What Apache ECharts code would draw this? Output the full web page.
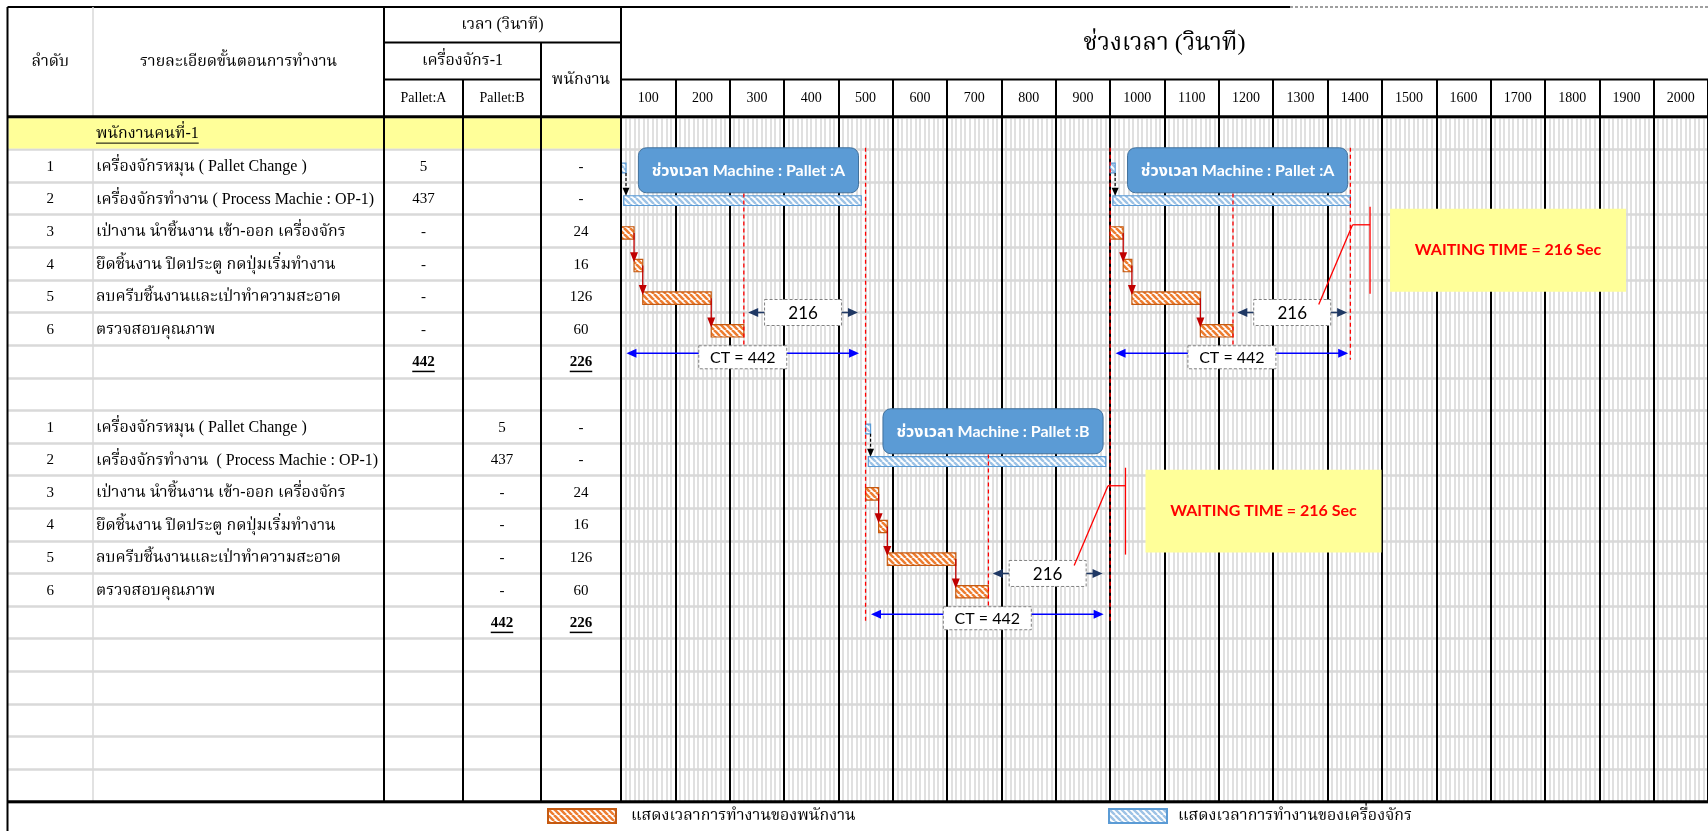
<!DOCTYPE html>
<html><head><meta charset="utf-8">
<script src="https://cdn.jsdelivr.net/npm/echarts@6/dist/echarts.min.js"></script>
<style>html,body{margin:0;padding:0;background:#fff}#c{width:1708px;height:831px}</style>
</head><body><div id="c"></div>
<script>
// ================= DATA =================
const groupTitle = 'พนักงานคนที่-1';
const stepNo = ['1','2','3','4','5','6'];
const stepDescA = ['เครื่องจักรหมุน ( Pallet Change )','เครื่องจักรทำงาน ( Process Machie : OP-1)','เป่างาน นำชิ้นงาน เข้า-ออก เครื่องจักร','ยึดชิ้นงาน ปิดประตู กดปุ่มเริ่มทำงาน','ลบครีบชิ้นงานและเป่าทำความสะอาด','ตรวจสอบคุณภาพ'];
const stepDescB = ['เครื่องจักรหมุน ( Pallet Change )','เครื่องจักรทำงาน  ( Process Machie : OP-1)','เป่างาน นำชิ้นงาน เข้า-ออก เครื่องจักร','ยึดชิ้นงาน ปิดประตู กดปุ่มเริ่มทำงาน','ลบครีบชิ้นงานและเป่าทำความสะอาด','ตรวจสอบคุณภาพ'];
const machineSec  = [5, 437, null, null, null, null];
const operatorSec = [null, null, 24, 16, 126, 60];
const timeTicks = ['100','200','300','400','500','600','700','800','900','1000','1100','1200','1300','1400','1500','1600','1700','1800','1900','2000'];
const headerTexts = ['ลำดับ','รายละเอียดขั้นตอนการทำงาน','เวลา (วินาที)','เครื่องจักร-1','พนักงาน','Pallet:A','Pallet:B'];
const timeTitle = 'ช่วงเวลา (วินาที)';
// cycles as drawn on the sheet (start second)
const cycleStart  = [0, 450, 900];
const cyclePallet = ['A', 'B', 'A'];
const cycleBlock  = [0, 1, 0];
const cycleNote   = [false, true, true];
const machineLabelPrefix = 'ช่วงเวลา Machine : Pallet :';
const legendNames = ['แสดงเวลาการทำงานของพนักงาน','แสดงเวลาการทำงานของเครื่องจักร'];

const machineTotal  = machineSec.reduce((a,b)=>a+(b||0),0);   // 442
const operatorTotal = operatorSec.reduce((a,b)=>a+(b||0),0);  // 226
const waitingSec = machineTotal - operatorTotal;              // 216

// ================= LAYOUT =================
const X0 = 7.5, COLS = [7.5, 93, 384, 463, 541, 621];
const HY = [7, 42.5, 79.5, 116.8];
const BODY_BOTTOM = 801.8, NROWS = 21, W = 1708, H = 831;
const blockRowOffset = [0, 8];
const TH = '"Liberation Serif","Times New Roman","Noto Serif Thai","Noto Sans Thai",serif';
const SANS = 'Lato,"Noto Sans","Noto Sans Thai",sans-serif';

const mctx = document.createElement('canvas').getContext('2d');
function tw(t, font){ mctx.font = font; return mctx.measureText(t).width; }

function hatch(bg, stripe, size, lw){
  const c = document.createElement('canvas'); c.width = c.height = size;
  const g = c.getContext('2d'); g.fillStyle = bg; g.fillRect(0,0,size,size);
  g.strokeStyle = stripe; g.lineWidth = lw; g.beginPath();
  for (let k=-1;k<=1;k++){ g.moveTo(k*size,0); g.lineTo(k*size+size,size); }
  g.stroke(); return {image:c, repeat:'repeat'};
}
const orangePat = hatch('#ffffff', '#ed7d31', 6, 2.6);
const bluePat   = hatch('#ffffff', '#9dc3e6', 6, 2.4);

// ---------- table rows ----------
const tableRows = [{kind:'title', desc:groupTitle}];
function pushBlock(descs, pallet){
  for (let i=0;i<stepNo.length;i++){
    const m = machineSec[i], o = operatorSec[i];
    const mv = m==null ? '-' : String(m);
    tableRows.push({kind:'step', no:stepNo[i], desc:descs[i],
      a: pallet==='A'?mv:'', b: pallet==='B'?mv:'', op: o==null?'-':String(o)});
  }
  tableRows.push({kind:'total', a: pallet==='A'?String(machineTotal):'', b: pallet==='B'?String(machineTotal):'', op:String(operatorTotal)});
}
pushBlock(stepDescA,'A'); tableRows.push({kind:'blank'}); pushBlock(stepDescB,'B');
while (tableRows.length < NROWS) tableRows.push({kind:'blank'});

// ---------- bars ----------
const opBars = [], mcBars = [];
cycleStart.forEach((s,c)=>{
  const ro = blockRowOffset[cycleBlock[c]];
  let t = s;
  operatorSec.forEach((d,i)=>{ if (d){ opBars.push([t, t+d, ro+1+i]); t += d; } });
  t = s;
  machineSec.forEach((d,i)=>{ if (d){ mcBars.push([t, t+d, ro+1+i]); t += d; } });
});

function txt(x, y, text, font, fill, align, extra){
  return Object.assign({type:'text', x, y, style:{text, font, fill: fill||'#000',
    align: align||'center', verticalAlign:'middle', textAlign: align||'center', textVerticalAlign:'middle'}}, extra||{});
}
function ln(x1,y1,x2,y2,stroke,w,dash){
  return {type:'line', shape:{x1,y1,x2,y2}, style:{stroke, lineWidth:w, lineDash: dash||null}};
}
function head(tx,ty,dx,dy,len,wid,color){
  const bx = tx-dx*len, by = ty-dy*len, px = -dy, py = dx;
  return {type:'polygon', shape:{points:[[tx,ty],[bx+px*wid/2,by+py*wid/2],[bx-px*wid/2,by-py*wid/2]]}, style:{fill:color}};
}

// ---------- render functions ----------
function renderTable(params, api){
  const r = params.dataIndex, row = tableRows[r];
  const y0 = api.coord([0, r])[1], y1 = api.coord([0, r+1])[1], yc = (y0+y1)/2 + 1;
  const ch = [];
  const fTh = '16px ' + TH, fNum = '15px ' + TH, fBold = 'bold 15px ' + TH;
  const cx = i => (COLS[i]+COLS[i+1])/2;
  if (row.kind === 'title'){
    ch.push({type:'rect', shape:{x:COLS[0]+1, y:y0+1.5, width:COLS[5]-COLS[0]-1, height:y1-y0-2.5}, style:{fill:'#ffff99'}});
    ch.push(txt(COLS[1]+3, yc, row.desc, fTh, '#000', 'left'));
    const w = tw(row.desc, fTh);
    ch.push(ln(COLS[1]+3, yc+9, COLS[1]+3+w, yc+9, '#000', 1));
  } else if (row.kind === 'step'){
    ch.push(txt(cx(0), yc, row.no, fNum));
    ch.push(txt(COLS[1]+3, yc, row.desc, fTh, '#000', 'left'));
    if (row.a) ch.push(txt(cx(2), yc, row.a, fNum));
    if (row.b) ch.push(txt(cx(3), yc, row.b, fNum));
    ch.push(txt(cx(4), yc, row.op, fNum));
  } else if (row.kind === 'total'){
    [[2,row.a],[3,row.b],[4,row.op]].forEach(([i,v])=>{
      if (!v) return;
      ch.push(txt(cx(i), yc, v, fBold));
      const w = tw(v, fBold);
      ch.push(ln(cx(i)-w/2, yc+9, cx(i)+w/2, yc+9, '#000', 1.5));
    });
  }
  return {type:'group', children: ch};
}

function renderBar(pat, stroke, minW){
  return function(params, api){
    const t0 = api.value(0), t1 = api.value(1), row = api.value(2);
    const isOp = pat === orangePat;
    const a = api.coord([t0, row]), b = api.coord([t1, row]);
    const ya = api.coord([t0, row + (isOp?0.37:0.42)])[1], yb = api.coord([t0, row + (isOp?0.75:0.72)])[1];
    const w = Math.max(b[0]-a[0], minW);
    return {type:'rect', shape:{x:a[0], y:ya, width:w, height:yb-ya}, style:{fill:pat, stroke, lineWidth:1.2}};
  };
}

function renderCycle(params, api){
  const c = params.dataIndex, s = cycleStart[c], ro = blockRowOffset[cycleBlock[c]];
  const X = t => api.coord([t, 0])[0];
  const Y = r => api.coord([0, ro + r])[1];
  const YA = r => api.coord([0, r])[1];
  const ch = [];
  const opEnd = s + operatorTotal, mEnd = s + machineTotal;

  // boundary (machine end / next start) red dashed line
  const last = c === cycleStart.length-1;
  const bt = last ? mEnd : cycleStart[c+1];
  const nro = last ? ro : blockRowOffset[cycleBlock[c+1]];
  ch.push(ln(X(bt), YA(Math.min(ro,nro)+0.95), X(bt), YA(Math.max(ro,nro)+7.45), '#ff0000', 1.3, [4,3]));
  // operator end dashed line
  ch.push(ln(X(opEnd), Y(2.35), X(opEnd), Y(7.5), '#ff0000', 1.3, [4,3]));

  // machine label
  const lx0 = X(s+32), lx1 = X(s+437), ly0 = Y(0.95), ly1 = Y(2.33);
  ch.push({type:'rect', shape:{x:lx0, y:ly0, width:lx1-lx0, height:ly1-ly0, r:8}, style:{fill:'#5b9bd5', stroke:'#41719c', lineWidth:1}});
  ch.push(txt((lx0+lx1)/2, (ly0+ly1)/2+1, machineLabelPrefix + cyclePallet[c], 'bold 16px ' + SANS, '#ffffff'));

  // dashed black arrow from pallet change to machining
  const px = Math.max(X(s+machineSec[0]), X(s)+5);
  const ay0 = Y(1.72), ay1 = Y(2.42);
  ch.push(ln(px, ay0, px, ay1-7, '#000', 1.2, [3,2]));
  ch.push(head(px, ay1, 0, 1, 8, 7, '#000'));

  // red arrows between operator tasks
  let t = s; const ops = [];
  operatorSec.forEach((d,i)=>{ if (d){ ops.push({t0:t, t1:t+d, row:1+i}); t+=d; } });
  for (let i=0;i<ops.length-1;i++){
    const x = X(ops[i].t1), y0 = Y(ops[i].row+0.56), y1 = Y(ops[i+1].row+0.37)+3;
    ch.push(ln(x, y0, x, y1-8, '#c00000', 1.3));
    ch.push(head(x, y1, 0, 1, 10, 8, '#c00000'));
  }

  // waiting arrow + label
  const wy = Y(6), wx0 = X(opEnd+8), wx1 = X(mEnd-6);
  ch.push(ln(wx0+8, wy, wx1-8, wy, '#1f3864', 1.5));
  ch.push(head(wx0, wy, -1, 0, 10, 9, '#1f3864'));
  ch.push(head(wx1, wy, 1, 0, 10, 9, '#1f3864'));
  const wcx = (wx0+wx1)/2, bw = 77, bh = 26;
  const wbox = {x:wcx-bw/2, y:wy-bh/2, w:bw, h:bh};
  ch.push({type:'rect', shape:{x:wbox.x, y:wbox.y, width:bw, height:bh}, style:{fill:'#fff', stroke:'#808080', lineWidth:1, lineDash:[3,2]}});
  ch.push(txt(wcx, wy+1, String(waitingSec), '17px ' + SANS, '#000'));

  // CT arrow + label
  const cy = Y(7.25), cx0 = X(s+10), cx1 = X(s+machineTotal-4);
  ch.push(ln(cx0+8, cy, cx1-8, cy, '#0000ff', 1.5));
  ch.push(head(cx0, cy, -1, 0, 10, 9, '#0000ff'));
  ch.push(head(cx1, cy, 1, 0, 10, 9, '#0000ff'));
  const ccx = (cx0+cx1)/2, cbw = 88, cbh = 23;
  ch.push({type:'rect', shape:{x:ccx-cbw/2, y:cy+4-cbh/2, width:cbw, height:cbh}, style:{fill:'#fff', stroke:'#808080', lineWidth:1, lineDash:[3,2]}});
  ch.push(txt(ccx, cy+5, 'CT = ' + machineTotal, '16px ' + SANS, '#000'));

  // waiting-time note with callout
  if (cycleNote[c]){
    const nx0 = X(mEnd+73), nx1 = nx0 + 236, ny0 = Y(2.82), ny1 = Y(5.36);
    ch.push({type:'rect', shape:{x:nx0, y:ny0, width:nx1-nx0, height:ny1-ny0}, style:{fill:'#ffff99'}});
    ch.push(txt((nx0+nx1)/2, (ny0+ny1)/2, 'WAITING TIME = ' + waitingSec + ' Sec', 'bold 16px ' + SANS, '#ff0000'));
    const bx = nx0 - 20, ex = X(mEnd+4), ey = ny0 + 16;
    ch.push(ln(bx, ny0-2, bx, ny1+2, '#ff0000', 1.3));
    ch.push(ln(bx, ey, ex, ey, '#ff0000', 1.3));
    ch.push(ln(ex, ey, wbox.x+wbox.w-12, wbox.y+5, '#ff0000', 1.3));
  }
  return {type:'group', children: ch};
}

// ---------- static table frame & header ----------
const G = [];
function gl(x1,y1,x2,y2,stroke,w,dash){ const e = ln(x1,y1,x2,y2,stroke,w,dash); e.z = 100; e.silent = true; G.push(e); }
function gt(x,y,t,font){ const e = txt(x,y,t,font); e.z = 100; G.push(e); }
gl(X0, HY[0], 1290, HY[0], '#000', 2);
gl(1290, HY[0], W, HY[0], '#808080', 1.5, [3,2]);
gl(X0, HY[0], X0, H, '#000', 2);
gl(COLS[1], HY[0], COLS[1], HY[3], '#d9d9d9', 1.5);
gl(COLS[1], HY[3]+33, COLS[1], BODY_BOTTOM, '#d9d9d9', 1.5);
gl(COLS[2], HY[0], COLS[2], BODY_BOTTOM, '#000', 2);
gl(COLS[3], HY[2], COLS[3], BODY_BOTTOM, '#000', 2);
gl(COLS[4], HY[1], COLS[4], BODY_BOTTOM, '#000', 2);
gl(COLS[5], HY[0], COLS[5], BODY_BOTTOM, '#000', 2);
gl(COLS[2], HY[1], COLS[5], HY[1], '#000', 2);
gl(COLS[2], HY[2], COLS[4], HY[2], '#000', 2);
gl(COLS[5], HY[2], W, HY[2], '#000', 2);
gl(X0, HY[3], W, HY[3], '#000', 3);
gl(X0, BODY_BOTTOM, W, BODY_BOTTOM, '#000', 3);
const hf = '16px ' + TH, hfs = '14px ' + TH;
gt((COLS[0]+COLS[1])/2, (HY[0]+HY[3])/2, headerTexts[0], hf);
gt((COLS[1]+COLS[2])/2, (HY[0]+HY[3])/2, headerTexts[1], hf);
gt((COLS[2]+COLS[5])/2, (HY[0]+HY[1])/2, headerTexts[2], hf);
gt((COLS[2]+COLS[4])/2, (HY[1]+HY[2])/2, headerTexts[3], hf);
gt((COLS[4]+COLS[5])/2, (HY[1]+HY[3])/2, headerTexts[4], hf);
gt((COLS[2]+COLS[3])/2, (HY[2]+HY[3])/2, headerTexts[5], hfs);
gt((COLS[3]+COLS[4])/2, (HY[2]+HY[3])/2, headerTexts[6], hfs);

// ================= CHART =================
const chart = echarts.init(document.getElementById('c'), null, {renderer:'canvas', width:W, height:H});
const gridTop = HY[3], gridH = BODY_BOTTOM - HY[3];
const yRows = (gi)=>({gridIndex:gi, type:'value', min:0, max:NROWS, interval:1, inverse:true, z:0,
  axisLabel:{show:false}, axisLine:{show:false}, axisTick:{show:false},
  splitLine:{show:true, lineStyle:{color:'#d9d9d9', width:2.5}}});
const option = {
  animation:false,
  grid:[{left:X0, top:gridTop, width:COLS[5]-X0, height:gridH},
        {left:COLS[5], top:gridTop, width:1098, height:gridH}],
  xAxis:[
    {gridIndex:0, type:'value', min:0, max:COLS[5]-X0, show:false},
    {gridIndex:1, type:'value', min:0, max:2000, interval:100, z:1,
      axisLabel:{show:false}, axisLine:{show:false}, axisTick:{show:false},
      splitLine:{show:true, lineStyle:{color:'#000', width:2}},
      minorTick:{show:false, splitNumber:12},
      minorSplitLine:{show:true, lineStyle:{color:'#d9d9d9', width:1.6}}},
    {gridIndex:1, type:'category', data:timeTicks, position:'top', boundaryGap:true, z:1,
      axisLine:{show:false},
      axisTick:{show:true, length:HY[3]-HY[2], lineStyle:{color:'#000', width:2}},
      axisLabel:{interval:0, margin:18, verticalAlign:'middle', fontFamily:TH, fontSize:14, color:'#000'},
      name: timeTitle, nameLocation:'middle', nameGap: HY[3]-(HY[0]+HY[2])/2,
      nameTextStyle:{fontFamily:TH, fontSize:24, color:'#000', verticalAlign:'middle'}}
  ],
  yAxis:[yRows(0), yRows(1)],
  legend:[
    {data:[legendNames[0]], left:547, top:808, padding:0, icon:'rect', itemWidth:68, itemHeight:14,
      textStyle:{fontFamily:TH, fontSize:16, color:'#000', padding:[0,0,0,10]}},
    {data:[legendNames[1]], left:1108, top:808, padding:0, icon:'rect', itemWidth:58, itemHeight:14,
      textStyle:{fontFamily:TH, fontSize:16, color:'#000', padding:[0,0,0,6]}}
  ],
  graphic:{elements:G},
  series:[
    {type:'custom', name:'table', xAxisIndex:0, yAxisIndex:0, z:2, silent:true,
      data: tableRows.map((_,i)=>[0, i+0.5]), encode:{x:0, y:1}, renderItem: renderTable},
    {type:'custom', name:legendNames[1], xAxisIndex:1, yAxisIndex:1, z:3, silent:true,
      itemStyle:{color:bluePat, borderColor:'#5b9bd5', borderWidth:1},
      data: mcBars, encode:{x:[0,1], y:2}, renderItem: renderBar(bluePat, '#5b9bd5', 5)},
    {type:'custom', name:legendNames[0], xAxisIndex:1, yAxisIndex:1, z:3, silent:true,
      itemStyle:{color:orangePat, borderColor:'#c55a11', borderWidth:1},
      data: opBars, encode:{x:[0,1], y:2}, renderItem: renderBar(orangePat, '#c55a11', 0)},
    {type:'custom', name:'notes', xAxisIndex:1, yAxisIndex:1, z:4, silent:true,
      data: cycleStart.map((s,c)=>[s, blockRowOffset[cycleBlock[c]]+1]), encode:{x:0, y:1}, renderItem: renderCycle}
  ]
};
chart.setOption(option);
</script></body></html>
